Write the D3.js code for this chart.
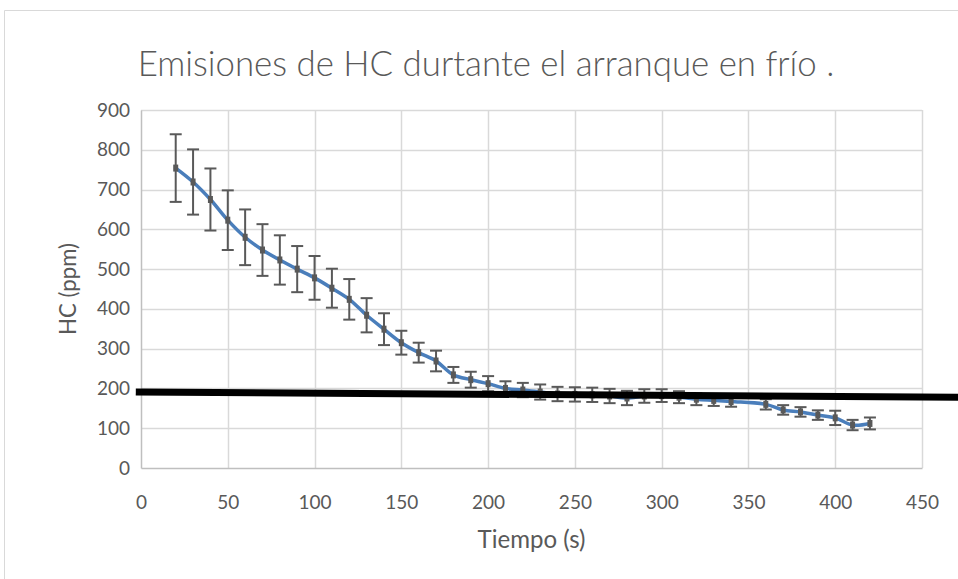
<!DOCTYPE html>
<html>
<head>
<meta charset="utf-8">
<script src="https://cdn.jsdelivr.net/npm/d3@7"></script>
<style>
  html, body { margin: 0; padding: 0; background: #ffffff; }
  svg { display: block; }
</style>
</head>
<body>
<svg id="chart" width="958" height="579"></svg>
<script>
// ---- data ----
const times = [20,30,40,50,60,70,80,90,100,110,120,130,140,150,160,170,180,190,200,210,220,230,240,250,260,270,280,290,300,310,320,330,340,360,370,380,390,400,410,420];
const hcMeans = [754,719,675,623,580,548,523,500,478,452,424,384,349,315,290,269,234,222,212,200,196,191,186,185,184,181,176,181,182,178,173,170,167,160,146,141,133,126,108,112];
const hcErrors = [85,82,78,75,70,65,62,58,55,49,51,43,40,30,25,26,20,20,19,18,18,19,18,18,18,18,18,17,16,15,15,14,13,13,12,12,12,18,13,15];
const xTicks = [0,50,100,150,200,250,300,350,400,450];
const yTicks = [0,100,200,300,400,500,600,700,800,900];
const refLineX = [-3, 471];
const refLineY = [191, 178];
const titleText = "Emisiones de HC durtante el arranque en frío .";
const xTitle = "Tiempo (s)";
const yTitle = "HC (ppm)";

// ---- layout ----
const svg = d3.select("#chart");
const plot = { left: 141, right: 922, top: 110, bottom: 468 };
const x = d3.scaleLinear().domain([0, 450]).range([plot.left, plot.right]);
const y = d3.scaleLinear().domain([0, 900]).range([plot.bottom, plot.top]);
const textColor = "#595959";
const font = "Lato, 'Open Sans', sans-serif";

function fitWidth(sel, size, target) {
  sel.attr("font-size", size);
  const w = sel.node().getComputedTextLength();
  if (w > 0) sel.attr("font-size", size * target / w);
}

// outer chart border
svg.append("path")
  .attr("d", `M4.5,579 V10.5 H958`)
  .attr("fill", "none").attr("stroke", "#d9d9d9").attr("stroke-width", 1);

// gridlines
const grid = svg.append("g");
grid.selectAll("line.h").data(yTicks.filter(d => d > 0)).enter().append("line")
  .attr("x1", plot.left).attr("x2", plot.right)
  .attr("y1", d => Math.round(y(d)) + 0.5).attr("y2", d => Math.round(y(d)) + 0.5)
  .attr("stroke", "#d9d9d9").attr("stroke-width", 1.5);
grid.selectAll("line.v").data(xTicks.filter(d => d > 0)).enter().append("line")
  .attr("y1", plot.top).attr("y2", plot.bottom)
  .attr("x1", d => Math.round(x(d)) + 0.5).attr("x2", d => Math.round(x(d)) + 0.5)
  .attr("stroke", "#d9d9d9").attr("stroke-width", 1.5);

// axes
const xAxis = d3.axisBottom(x).tickValues(xTicks).tickSize(0).tickPadding(28);
const gx = svg.append("g").attr("transform", `translate(0,${plot.bottom})`).call(xAxis);
gx.select(".domain").attr("stroke", "#bfbfbf").attr("stroke-width", 1.5);
gx.selectAll("text").attr("fill", textColor).attr("font-family", font).attr("font-size", 19);

const yAxis = d3.axisLeft(y).tickValues(yTicks).tickSize(0).tickPadding(11);
const gy = svg.append("g").attr("transform", `translate(${plot.left},0)`).call(yAxis);
gy.select(".domain").attr("stroke", "#bfbfbf").attr("stroke-width", 1.5);
gy.selectAll("text").attr("fill", textColor).attr("font-family", font).attr("font-size", 19);

// data line (smoothed)
const pts = times.map((t, i) => ({ t, m: hcMeans[i], e: hcErrors[i] }));
const line = d3.line().x(d => x(d.t)).y(d => y(d.m)).curve(d3.curveCatmullRom.alpha(0.5));
svg.append("path").datum(pts).attr("d", line)
  .attr("fill", "none").attr("stroke", "#4a7ebb").attr("stroke-width", 3.5)
  .attr("stroke-linecap", "round").attr("stroke-linejoin", "round");

// error bars + markers
const eb = svg.append("g").attr("stroke", "#595959").attr("stroke-width", 2);
const ebG = eb.selectAll("g").data(pts).enter().append("g");
ebG.append("line")
  .attr("x1", d => x(d.t)).attr("x2", d => x(d.t))
  .attr("y1", d => y(d.m + d.e)).attr("y2", d => y(d.m - d.e));
ebG.append("line")
  .attr("x1", d => x(d.t) - 6).attr("x2", d => x(d.t) + 6)
  .attr("y1", d => y(d.m + d.e)).attr("y2", d => y(d.m + d.e));
ebG.append("line")
  .attr("x1", d => x(d.t) - 6).attr("x2", d => x(d.t) + 6)
  .attr("y1", d => y(d.m - d.e)).attr("y2", d => y(d.m - d.e));
svg.append("g").selectAll("rect").data(pts).enter().append("rect")
  .attr("x", d => x(d.t) - 2.5).attr("y", d => y(d.m) - 3.5)
  .attr("width", 5).attr("height", 7).attr("fill", "#595959");

// thick black reference line
svg.append("line")
  .attr("x1", x(refLineX[0])).attr("y1", y(refLineY[0]))
  .attr("x2", x(refLineX[1])).attr("y2", y(refLineY[1]))
  .attr("stroke", "#000000").attr("stroke-width", 7);

// title
const title = svg.append("text")
  .attr("x", 486).attr("y", 76).attr("text-anchor", "middle")
  .attr("fill", textColor).attr("font-family", font).attr("font-weight", 300)
  .text(titleText);
fitWidth(title, 30, 697);

// axis titles
const xt = svg.append("text")
  .attr("x", (plot.left + plot.right) / 2).attr("y", 548).attr("text-anchor", "middle")
  .attr("fill", textColor).attr("font-family", font).text(xTitle);
fitWidth(xt, 20, 108);
const yt = svg.append("text")
  .attr("transform", `translate(76,${(plot.top + plot.bottom) / 2}) rotate(-90)`)
  .attr("text-anchor", "middle")
  .attr("fill", textColor).attr("font-family", font).text(yTitle);
fitWidth(yt, 20, 92);
</script>
</body>
</html>
